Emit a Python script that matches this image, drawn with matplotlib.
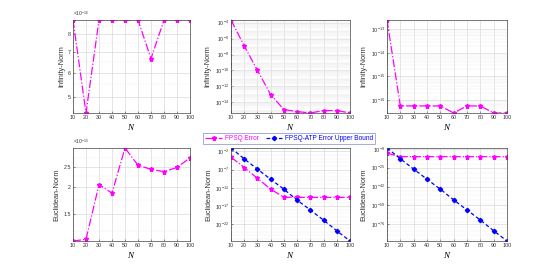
import numpy as np
import matplotlib
matplotlib.use("Agg")
import matplotlib.pyplot as plt
from matplotlib.ticker import LogLocator, NullFormatter, FixedLocator

plt.rcParams["font.family"] = ["Liberation Sans", "DejaVu Sans"]
plt.rcParams["mathtext.fontset"] = "custom"
plt.rcParams["mathtext.rm"] = "Liberation Sans"
plt.rcParams["mathtext.it"] = "Liberation Serif:italic"

N = [10, 20, 30, 40, 50, 60, 70, 80, 90, 100]

# column 1 (values in units of 1e-16 / 1e-15)
inf_c1 = [8.88, 4.44, 8.88, 8.88, 8.88, 8.88, 6.66, 8.88, 8.88, 8.88]
euc_c1 = [1.12, 1.14, 2.06, 1.88, 3.06, 2.54, 2.43, 2.37, 2.48, 2.75]

# column 2
inf_c2 = [2.2e-4, 1.2e-7, 1.0e-10, 9e-14, 1.2e-15, 6.6e-16, 4.4e-16, 8.9e-16, 8.9e-16, 4.4e-16]
euc_c2 = [2.5e-4, 3.5e-7, 4e-10, 4e-13, 2.5e-15, 2.3e-15, 2.2e-15, 2.4e-15, 2.3e-15, 2.3e-15]
bnd_c2 = [8e-2, 8.5e-5, 1.2e-7, 2.2e-10, 4e-13, 4e-16, 8e-19, 1.3e-21, 1.6e-24, 2.5e-27]

# column 3
inf_c3 = [2.5e-13, 5.55e-17, 5.55e-17, 5.55e-17, 5.55e-17, 2.78e-17, 5.55e-17, 5.55e-17, 2.78e-17, 2.78e-17]
euc_c3 = [1e-12, 8e-16, 8e-16, 8e-16, 8e-16, 8e-16, 8e-16, 8e-16, 8e-16, 8e-16]
bnd_c3 = [5e-8, 1e-17, 5e-27, 4e-36, 4e-45, 1e-54, 8e-64, 8e-73, 1.6e-82, 1e-91]

MAG = "#FF00FF"
BLUE = "#0000FF"
TICK_FS = 3.9
LAB_FS = 5.3

fig = plt.figure(figsize=(5.6, 2.71), dpi=100)
lefts = [73, 231, 387]
widths = [117, 119, 120]
tops = [20, 148]
heights = [93, 93]


def make_ax(col, row):
    l = lefts[col] / 560
    w = widths[col] / 560
    b = 1 - (tops[row] + heights[row]) / 271
    h = heights[row] / 271
    ax = fig.add_axes([l, b, w, h])
    ax.set_yscale("log")
    ax.set_xlim(10, 100)
    ax.set_xticks(N)
    ax.tick_params(labelsize=TICK_FS, length=1.5, width=0.4, pad=1.5, direction="in",
                   colors="#333333")
    ax.tick_params(which="minor", length=0.8, width=0.3, direction="in")
    for s in ax.spines.values():
        s.set_linewidth(0.5)
        s.set_color("#444444")
    ax.grid(True, which="major", color="#d0d0d0", lw=0.4)
    ax.grid(True, which="minor", color="#ececec", lw=0.3)
    ax.set_axisbelow(True)
    ax.set_xlabel(r"$N$", fontsize=6.5, labelpad=1.5)
    ax.set_ylabel("Euclidean-Norm" if row else "Infinity-Norm", fontsize=LAB_FS, labelpad=2,
                  color="#333333")
    return ax


def fpsq(ax, y):
    ax.plot(N, y, color=MAG, ls="-.", lw=0.9, marker="*", ms=3.6, mec=MAG, mfc=MAG,
            label="FPSQ Error")


def bound(ax, y):
    ax.plot(N, y, color=BLUE, ls="--", lw=0.9, marker="D", ms=2.2, mec=BLUE, mfc=BLUE,
            dashes=(3, 2), label="FPSQ-ATP Error Upper Bound")


def scaled_ticks(ax, ticks, scale, exp):
    ax.yaxis.set_major_locator(FixedLocator([t * scale for t in ticks]))
    ax.set_yticklabels([("%g" % t) for t in ticks])
    ax.yaxis.set_minor_formatter(NullFormatter())
    ax.text(0.0, 1.02, r"$\times10^{%d}$" % exp, transform=ax.transAxes,
            fontsize=3.5, va="bottom", ha="left", color="#333333")


# column 1
ax = make_ax(0, 0)
fpsq(ax, [v * 1e-16 for v in inf_c1])
ax.set_ylim(min(inf_c1) * 1e-16, max(inf_c1) * 1e-16)
ax.yaxis.set_minor_locator(FixedLocator([x * 1e-16 for x in [4.5, 5.5, 6.5, 7.5, 8.5]]))
scaled_ticks(ax, [5, 6, 7, 8], 1e-16, -16)

ax = make_ax(0, 1)
fpsq(ax, [v * 1e-15 for v in euc_c1])
ax.set_ylim(min(euc_c1) * 1e-15, max(euc_c1) * 1e-15)
ax.yaxis.set_minor_locator(FixedLocator([x * 1e-15 for x in [1.25, 1.75, 2.25, 2.75]]))
scaled_ticks(ax, [1.5, 2, 2.5], 1e-15, -15)

# column 2
ax = make_ax(1, 0)
fpsq(ax, inf_c2)
ax.set_ylim(min(inf_c2), max(inf_c2))
ax.set_yticks([10.0 ** e for e in range(-14, -3, 2)])
ax.yaxis.set_minor_locator(LogLocator(base=10, subs=np.arange(2, 10), numticks=100))
ax.yaxis.set_minor_formatter(NullFormatter())

ax = make_ax(1, 1)
fpsq(ax, euc_c2)
bound(ax, bnd_c2)
ax.set_ylim(min(bnd_c2), max(bnd_c2))
ax.set_yticks([10.0 ** e for e in range(-22, -1, 5)])
ax.yaxis.set_minor_locator(LogLocator(base=10, subs=[1.0], numticks=100))
ax.yaxis.set_minor_formatter(NullFormatter())
leg = ax.legend(loc="lower center", bbox_to_anchor=(0.49, 1.04), ncol=2, fontsize=4.7,
                frameon=True, fancybox=False, borderpad=0.3, handlelength=2.6,
                columnspacing=1.0, handletextpad=0.4, borderaxespad=0)
leg.get_frame().set_linewidth(0.5)
leg.get_frame().set_edgecolor("#6070c0")
for t, c in zip(leg.get_texts(), [MAG, BLUE]):
    t.set_color(c)

# column 3
ax = make_ax(2, 0)
fpsq(ax, inf_c3)
ax.set_ylim(min(inf_c3), max(inf_c3))
ax.set_yticks([10.0 ** e for e in range(-16, -12)])
ax.yaxis.set_minor_locator(LogLocator(base=10, subs=np.arange(2, 10), numticks=100))
ax.yaxis.set_minor_formatter(NullFormatter())

ax = make_ax(2, 1)
fpsq(ax, euc_c3)
bound(ax, bnd_c3)
ax.set_ylim(min(bnd_c3), max(bnd_c3))
ax.set_yticks([10.0 ** e for e in range(-76, -7, 17)])
ax.yaxis.set_minor_locator(FixedLocator([10.0 ** e for e in range(-90, -6, 4)]))
ax.yaxis.set_minor_formatter(NullFormatter())

fig.savefig("out.png", dpi=100, facecolor="white")
